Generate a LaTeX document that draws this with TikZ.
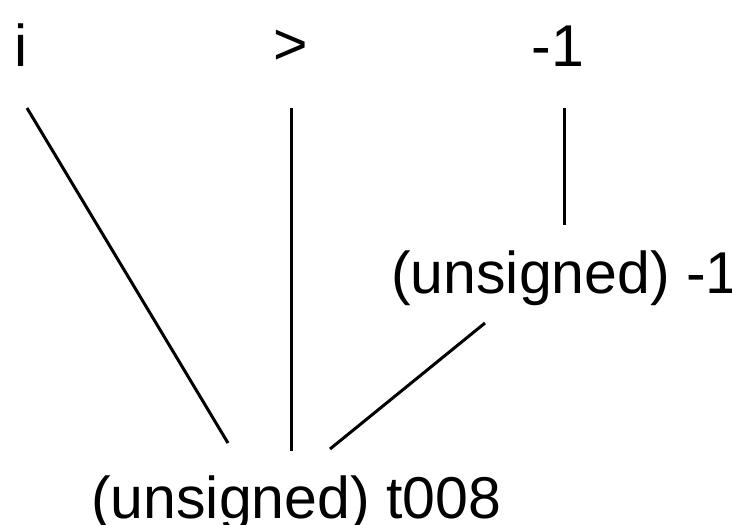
\documentclass[tikz,border=0pt]{standalone}
\usepackage{fontspec}
\setmainfont{Liberation Sans}
\begin{document}
\begin{tikzpicture}[x=1pt,y=-1pt,
  lbl/.style={inner sep=0pt,font=\fontsize{59}{59}\selectfont},
  edge/.style={line width=3pt}]
\useasboundingbox (0,0) rectangle (732,525);
\node[lbl,anchor=base west] (i) at (14,66) {i};
\node[lbl,anchor=base] (gt) at (291,64) {>};
\node[lbl,anchor=base] (m1) at (558,66) {-1};
\node[lbl,anchor=base west] (um1) at (391,293) {(unsigned) -1};
\node[lbl,anchor=base west] (t8) at (91,518) {(unsigned) t008};
\coordinate (a1) at (27,108);
\coordinate (a2) at (228,443);
\coordinate (b1) at (291,108);
\coordinate (b2) at (291,451);
\coordinate (c1) at (564,108);
\coordinate (c2) at (564,225);
\coordinate (d1) at (485,323);
\coordinate (d2) at (330,449);
\draw[edge] (a1) -- (a2);
\draw[edge] (b1) -- (b2);
\draw[edge] (c1) -- (c2);
\draw[edge] (d1) -- (d2);
\end{tikzpicture}
\end{document}
